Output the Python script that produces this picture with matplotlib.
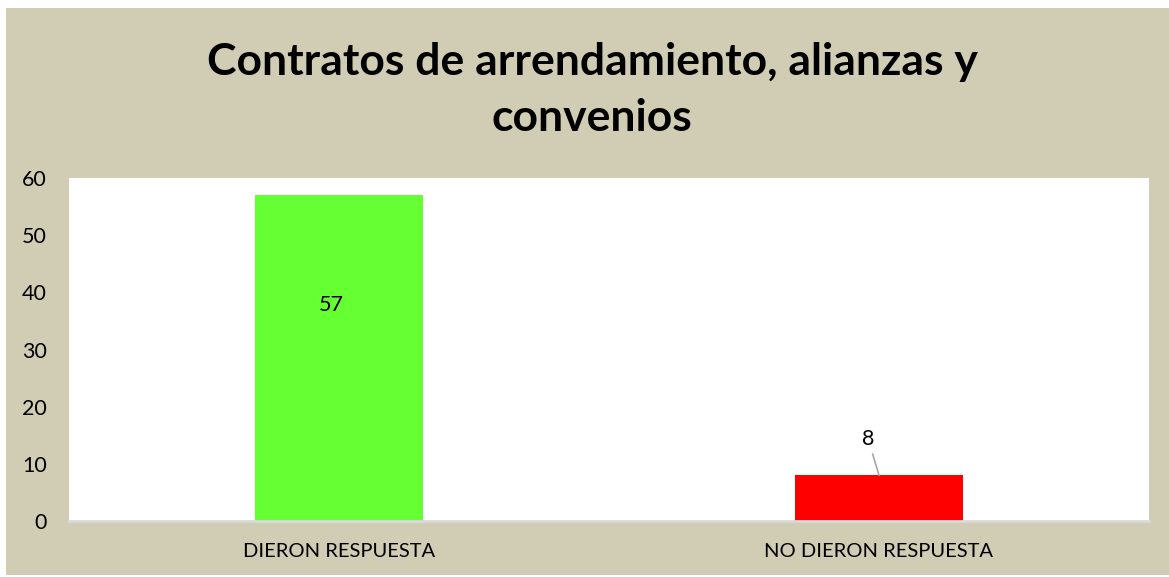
import matplotlib.pyplot as plt

categories = ["DIERON RESPUESTA", "NO DIERON RESPUESTA"]
values = [57, 8]
colors = ["#66FF33", "#FF0000"]
title = "Contratos de arrendamiento, alianzas y\nconvenios"

plt.rcParams['font.family'] = ['Lato', 'DejaVu Sans']

W, H = 1169, 577
fig = plt.figure(figsize=(W / 100, H / 100), dpi=100)
fig.patch.set_facecolor("white")

# tan chart area with a thin white margin on the left/top/bottom
bg = fig.add_axes([6 / W, 2 / H, (W - 6) / W, (H - 10) / H], zorder=0)
bg.set_facecolor("#D1CDB5")
bg.set_xticks([])
bg.set_yticks([])
for s in bg.spines.values():
    s.set_visible(False)

ax = fig.add_axes([69 / W, (H - 521) / H, (1149 - 69) / W, (521 - 178) / H], zorder=1)
ax.set_facecolor("white")
x = range(len(categories))
ax.bar(x, values, width=0.31, color=colors, zorder=2)
ax.set_xlim(-0.5, 1.5)
ax.set_ylim(0, 60)
ax.set_yticks(range(0, 61, 10))
ax.set_xticks(list(x))
ax.set_xticklabels(categories, fontsize=14.5)
ax.tick_params(axis="y", labelsize=15.5, length=0, pad=16)
ax.tick_params(axis="x", length=0, pad=16)
for s in ["top", "right", "left"]:
    ax.spines[s].set_visible(False)
ax.spines["bottom"].set_color("#D9D9D9")
ax.spines["bottom"].set_linewidth(2)

# value labels
ax.text(-0.015, 37.8, str(values[0]), ha="center", va="center", fontsize=15.5, zorder=3)
ax.annotate(str(values[1]), xy=(1.0, values[1]), xytext=(0.98, 14.3), ha="center",
            va="center", fontsize=15.5, zorder=3,
            arrowprops=dict(arrowstyle="-", color="#A6A6A6", lw=1.2,
                            shrinkA=1.5, shrinkB=0))

fig.text(592 / W, 1 - 90 / H, title, ha="center", va="center",
         fontsize=32, fontweight="bold", linespacing=1.5)

fig.savefig("out.png", dpi=100, facecolor=fig.get_facecolor())
